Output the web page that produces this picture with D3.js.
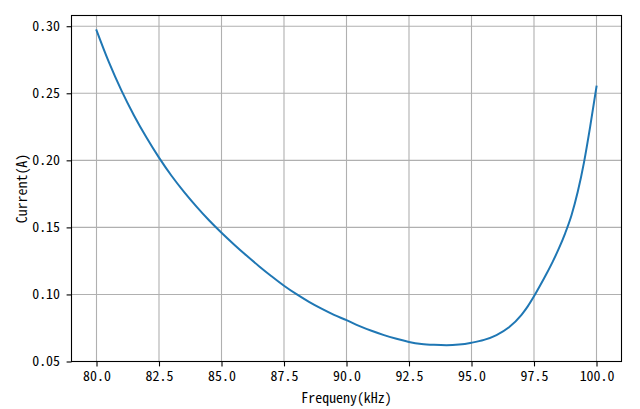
<!DOCTYPE html>
<html>
<head>
<meta charset="utf-8">
<script src="https://cdn.jsdelivr.net/npm/d3@7"></script>
<style>
  html, body { margin: 0; padding: 0; background: #fff; }
  svg { display: block; }
  text { font-family: "Noto Sans Mono CJK SC", "DejaVu Sans Mono", monospace; fill: #000; }
</style>
</head>
<body>
<svg id="chart" width="640" height="409"></svg>
<script>
const freq = [80, 80.5, 81, 81.5, 82, 82.5, 83, 83.5, 84, 84.5, 85, 85.5, 86, 86.5, 87, 87.5, 88, 88.5, 89, 89.5, 90, 90.5, 91, 91.5, 92, 92.5, 93, 93.5, 94, 94.5, 95, 95.5, 96, 96.5, 97, 97.25, 97.5, 97.75, 98, 98.25, 98.5, 98.75, 99, 99.25, 99.5, 99.75, 100];
const current = [0.297, 0.273, 0.252, 0.2335, 0.217, 0.202, 0.1885, 0.1765, 0.1655, 0.1553, 0.146, 0.1373, 0.129, 0.1211, 0.1136, 0.1065, 0.1002, 0.0945, 0.0894, 0.0848, 0.0808, 0.0766, 0.0729, 0.0697, 0.0669, 0.0646, 0.0631, 0.0624, 0.0621, 0.0626, 0.064, 0.0661, 0.0697, 0.0755, 0.0848, 0.0911, 0.0986, 0.1068, 0.1154, 0.1245, 0.1345, 0.1458, 0.1591, 0.1765, 0.1985, 0.2255, 0.255];
const xTicks = [80, 82.5, 85, 87.5, 90, 92.5, 95, 97.5, 100];
const yTicks = [0.05, 0.10, 0.15, 0.20, 0.25, 0.30];
const xLabel = "Frequeny(kHz)";
const yLabel = "Current(A)";

const L = 71.5, R = 621.5, T = 15.5, B = 361.5;
const svg = d3.select("#chart");
const x = d3.scaleLinear().domain([79, 101]).range([L, R]);
const y = d3.scaleLinear().domain([0.05, 0.308]).range([B, T]);

// grid
const g = svg.append("g");
g.selectAll(".vg").data(xTicks).enter().append("line")
  .attr("x1", d => x(d)).attr("x2", d => x(d)).attr("y1", T).attr("y2", B)
  .attr("stroke", "#b0b0b0").attr("stroke-width", 1.1);
g.selectAll(".hg").data(yTicks).enter().append("line")
  .attr("x1", L).attr("x2", R).attr("y1", d => y(d)).attr("y2", d => y(d))
  .attr("stroke", "#b0b0b0").attr("stroke-width", 1.1);

// line
const data = freq.map((f, i) => [f, current[i]]);
svg.append("path").datum(data)
  .attr("fill", "none").attr("stroke", "#1f77b4").attr("stroke-width", 2)
  .attr("stroke-linejoin", "round").attr("stroke-linecap", "square")
  .attr("d", d3.line().x(d => x(d[0])).y(d => y(d[1])).curve(d3.curveMonotoneX));

// axes
const xAxis = d3.axisBottom(x).tickValues(xTicks).tickFormat(d3.format(".1f")).tickSize(4.9).tickPadding(5.1);
const yAxis = d3.axisLeft(y).tickValues(yTicks).tickFormat(d3.format(".2f")).tickSize(4.9).tickPadding(6.6);
const gx = svg.append("g").attr("transform", `translate(0,${B})`).call(xAxis);
const gy = svg.append("g").attr("transform", `translate(${L},0)`).call(yAxis);
[gx, gy].forEach(a => {
  a.select(".domain").remove();
  a.selectAll(".tick line").attr("stroke", "#000").attr("stroke-width", 1.1);
  a.selectAll(".tick text").attr("font-size", "13.9px").attr("fill", "#000")
    .style("font-family", '"Noto Sans Mono CJK SC", "DejaVu Sans Mono", monospace');
});

// frame
svg.append("rect").attr("x", L).attr("y", T).attr("width", R - L).attr("height", B - T)
  .attr("fill", "none").attr("stroke", "#000").attr("stroke-width", 1.1);

svg.append("text").attr("x", (L + R) / 2).attr("y", 403).attr("text-anchor", "middle")
  .attr("font-size", "13.9px").text(xLabel);
svg.append("text").attr("transform", `translate(27,${(T + B) / 2}) rotate(-90)`)
  .attr("text-anchor", "middle").attr("font-size", "13.9px").text(yLabel);
</script>
</body>
</html>
